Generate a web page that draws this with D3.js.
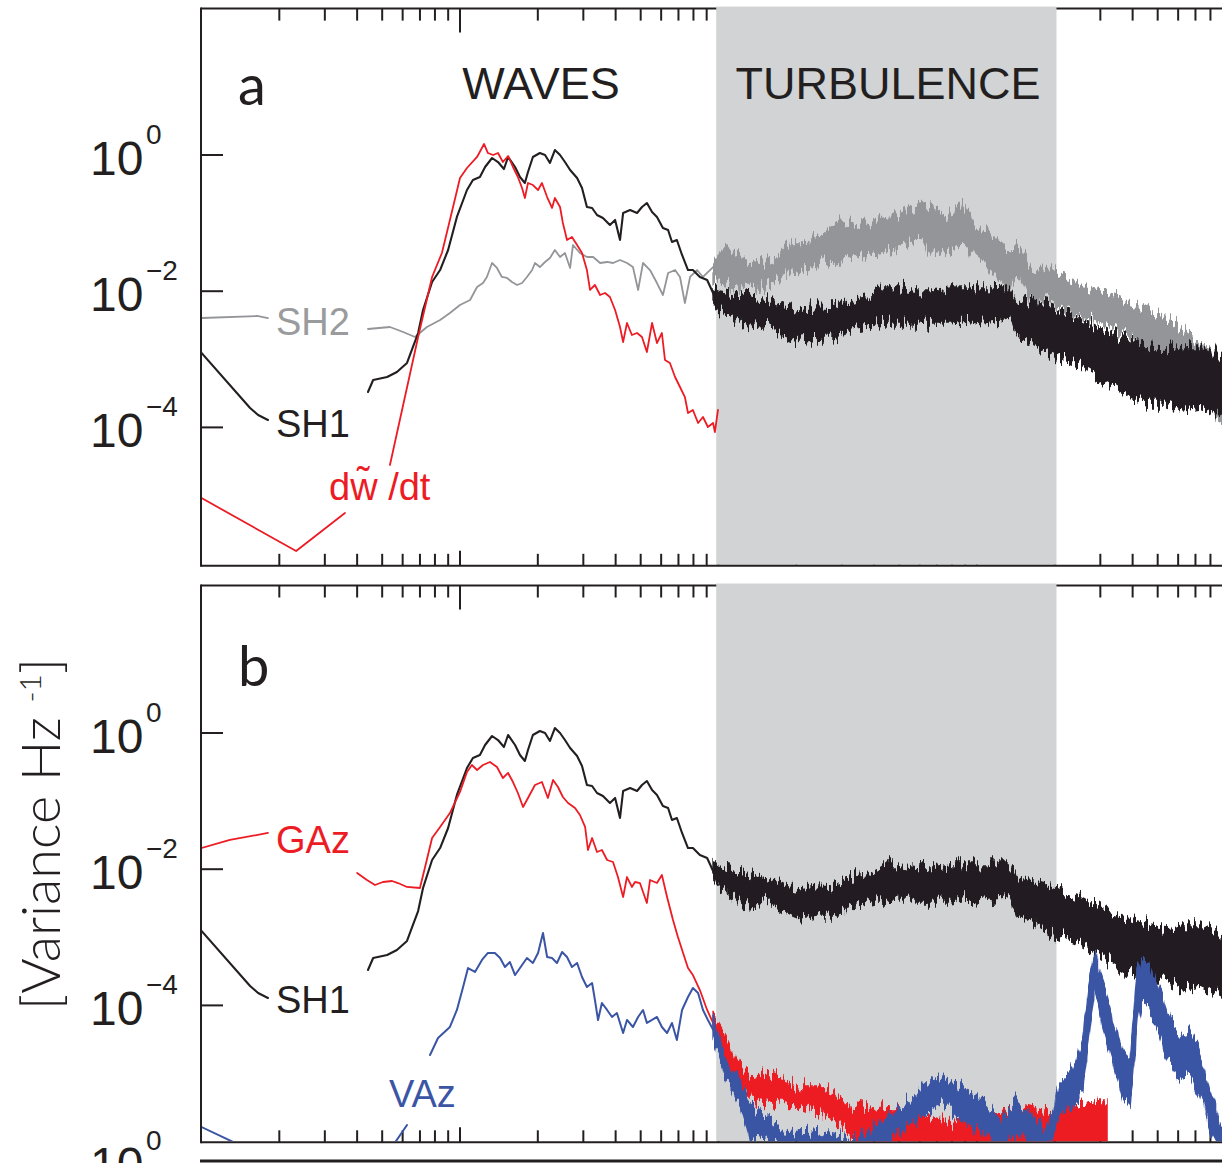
<!DOCTYPE html>
<html>
<head>
<meta charset="utf-8">
<script src="https://cdn.jsdelivr.net/npm/d3@7"></script>
<style>
  body { margin: 0; background: #ffffff; }
  svg { display: block; }
</style>
</head>
<body>
<svg id="chart" width="1222" height="1163"></svg>
<script>
// ---------------------------------------------------------------------------
// Spectra, stored as log10(frequency / Hz) and log10(variance / Hz^-1).
// Smooth low-frequency parts are lines; noisy high-frequency parts are
// stored as lower / upper envelopes of the scatter.
// ---------------------------------------------------------------------------

// SH1 shear probe (same spectrum shown in both panels)
const sh1LeftLogF = [-2.0, -1.812, -1.781, -1.743];
const sh1LeftLogP = [-2.907, -3.715, -3.818, -3.891];
const sh1LogF = [-1.356,-1.336,-1.282,-1.244,-1.205,-1.182,-1.162,-1.143,-1.108,-1.077,-1.046,-1.012,-0.973,-0.950,-0.923,-0.903,-0.876,-0.853,-0.830,-0.814,-0.787,-0.768,-0.749,-0.737,-0.718,-0.691,-0.671,-0.652,-0.633,-0.613,-0.594,-0.574,-0.547,-0.528,-0.509,-0.489,-0.470,-0.447,-0.420,-0.400,-0.381,-0.369,-0.342,-0.315,-0.296,-0.277,-0.257,-0.238,-0.215,-0.195,-0.180,-0.161,-0.141,-0.118,-0.099,-0.072,-0.044,-0.021,-0.002];
const sh1LogP = [-3.480,-3.304,-3.260,-3.186,-3.054,-2.819,-2.614,-2.276,-1.865,-1.689,-1.395,-0.910,-0.514,-0.367,-0.323,-0.176,-0.044,-0.103,-0.206,-0.029,-0.176,-0.323,-0.411,-0.250,-0.029,0.029,0,-0.117,0.073,0,-0.103,-0.220,-0.338,-0.485,-0.764,-0.778,-0.881,-0.925,-1.028,-0.954,-1.248,-0.852,-0.808,-0.852,-0.764,-0.705,-0.837,-0.910,-1.072,-1.101,-1.278,-1.248,-1.468,-1.689,-1.689,-1.791,-1.836,-2.026,-2.232];
const sh1BandLogF = [-0.021,0.006,0.056,0.122,0.188,0.250,0.315,0.381,0.443,0.509,0.574,0.636,0.702,0.768,0.830,0.896,0.961,1.023,1.089,1.128,1.155,1.217,1.282,1.348,1.410,1.476,1.542,1.603,1.669,1.735,1.797,1.863,1.948];
const sh1BandHi = [-1.938,-1.982,-2.026,-2.085,-2.129,-2.232,-2.276,-2.232,-2.247,-2.129,-2.085,-1.938,-1.938,-1.982,-1.982,-1.938,-1.938,-1.938,-1.938,-1.938,-2.129,-2.173,-2.232,-2.320,-2.423,-2.570,-2.672,-2.761,-2.819,-2.863,-2.819,-2.819,-2.966];
const sh1BandLo = [-2.115,-2.276,-2.379,-2.526,-2.467,-2.614,-2.717,-2.672,-2.672,-2.570,-2.526,-2.467,-2.467,-2.467,-2.467,-2.467,-2.423,-2.467,-2.423,-2.379,-2.672,-2.761,-2.907,-3.010,-3.113,-3.260,-3.407,-3.554,-3.642,-3.642,-3.744,-3.700,-3.847];

// SH2 shear probe (panel a)
const sh2LeftLogF = [-2.0, -1.785, -1.743];
const sh2LeftLogP = [-2.394, -2.364, -2.394];
const sh2LogF = [-1.356,-1.271,-1.220,-1.174,-1.128,-1.077,-1.039,-1.000,-0.961,-0.934,-0.911,-0.896,-0.876,-0.857,-0.838,-0.818,-0.799,-0.779,-0.760,-0.741,-0.721,-0.710,-0.691,-0.671,-0.652,-0.633,-0.613,-0.594,-0.574,-0.563,-0.536,-0.509,-0.485,-0.458,-0.431,-0.408,-0.381,-0.354,-0.331,-0.311,-0.292,-0.265,-0.238,-0.215,-0.195,-0.168,-0.149,-0.130,-0.110,-0.083,-0.060,-0.021];
const sh2LogP = [-2.555,-2.526,-2.599,-2.672,-2.526,-2.423,-2.320,-2.203,-2.129,-1.938,-1.880,-1.791,-1.586,-1.659,-1.791,-1.806,-1.865,-1.909,-1.880,-1.791,-1.689,-1.586,-1.645,-1.571,-1.512,-1.395,-1.498,-1.439,-1.659,-1.322,-1.439,-1.498,-1.498,-1.586,-1.571,-1.586,-1.542,-1.586,-1.645,-1.982,-1.586,-1.689,-1.880,-2.056,-1.733,-1.689,-1.791,-2.173,-1.791,-1.689,-1.791,-1.645];
const sh2BandLogF = [-0.021,0.033,0.095,0.161,0.226,0.277,0.342,0.404,0.470,0.536,0.598,0.663,0.729,0.779,0.830,0.896,0.942,1.000,1.050,1.116,1.166,1.217,1.282,1.348,1.410,1.476,1.542,1.603,1.669,1.735,1.797,1.863,1.948];
const sh2BandHi = [-1.615,-1.351,-1.498,-1.586,-1.498,-1.292,-1.292,-1.145,-0.999,-1.057,-0.954,-0.910,-0.808,-0.705,-0.764,-0.910,-0.705,-1.057,-1.145,-1.395,-1.351,-1.689,-1.645,-1.836,-1.938,-2.026,-2.085,-2.173,-2.320,-2.423,-2.570,-2.761,-2.966];
const sh2BandLo = [-1.836,-1.880,-1.938,-1.938,-1.836,-1.733,-1.689,-1.586,-1.542,-1.498,-1.439,-1.395,-1.292,-1.204,-1.468,-1.395,-1.292,-1.542,-1.689,-1.938,-1.791,-2.173,-2.129,-2.276,-2.379,-2.467,-2.570,-2.717,-2.863,-3.010,-3.157,-3.348,-4.038];

// d(w~)/dt, vertical acceleration (panel a)
const dwdtLeftLogF = [-2.0, -1.634, -1.445];
const dwdtLeftLogP = [-5.037, -5.815, -5.257];
const dwdtLogF = [-1.271,-1.162,-1.108,-1.070,-1.039,-1.000,-0.973,-0.934,-0.907,-0.892,-0.872,-0.853,-0.834,-0.814,-0.795,-0.776,-0.760,-0.749,-0.737,-0.718,-0.698,-0.683,-0.663,-0.644,-0.633,-0.613,-0.602,-0.586,-0.567,-0.547,-0.528,-0.509,-0.497,-0.478,-0.458,-0.439,-0.420,-0.400,-0.381,-0.369,-0.354,-0.335,-0.315,-0.296,-0.277,-0.257,-0.238,-0.219,-0.207,-0.188,-0.168,-0.149,-0.130,-0.118,-0.099,-0.079,-0.060,-0.041,-0.021,-0.014,-0.002];
const dwdtLogP = [-4.552,-2.672,-1.791,-1.439,-0.954,-0.338,-0.191,-0.029,0.162,0.029,0,0.029,-0.103,-0.015,-0.176,-0.323,-0.485,-0.631,-0.411,-0.441,-0.514,-0.411,-0.617,-0.778,-0.631,-0.764,-0.999,-1.248,-1.204,-1.322,-1.439,-1.689,-1.982,-1.909,-2.056,-2.026,-2.085,-2.276,-2.526,-2.746,-2.467,-2.643,-2.614,-2.672,-2.893,-2.467,-2.761,-2.614,-3.010,-3.054,-3.260,-3.407,-3.554,-3.789,-3.744,-3.935,-3.847,-3.994,-3.935,-4.068,-3.744];

// GAz accelerometer (panel b)
const gazLeftLogF = [-2.0, -1.890, -1.743];
const gazLeftLogP = [-1.689, -1.571, -1.468];
const gazLogF = [-1.398,-1.360,-1.329,-1.298,-1.263,-1.240,-1.205,-1.155,-1.135,-1.108,-1.077,-1.039,-1.000,-0.973,-0.954,-0.934,-0.911,-0.884,-0.857,-0.834,-0.814,-0.795,-0.776,-0.756,-0.737,-0.710,-0.683,-0.660,-0.640,-0.621,-0.602,-0.582,-0.555,-0.536,-0.516,-0.505,-0.489,-0.470,-0.451,-0.431,-0.408,-0.389,-0.369,-0.354,-0.335,-0.323,-0.304,-0.277,-0.265,-0.238,-0.219,-0.199,-0.176,-0.157,-0.137,-0.118,-0.099,-0.072,-0.044,-0.021,-0.002];
const gazLogP = [-2.056,-2.159,-2.232,-2.188,-2.173,-2.203,-2.261,-2.276,-1.968,-1.542,-1.380,-1.175,-0.866,-0.573,-0.470,-0.543,-0.470,-0.426,-0.499,-0.661,-0.587,-0.720,-0.881,-1.087,-0.954,-0.764,-0.720,-0.954,-0.690,-0.793,-0.940,-1.028,-1.101,-1.204,-1.380,-1.718,-1.542,-1.747,-1.718,-1.865,-1.894,-2.115,-2.408,-2.115,-2.261,-2.188,-2.203,-2.496,-2.159,-2.203,-2.085,-2.408,-2.746,-2.996,-3.230,-3.451,-3.554,-3.774,-4.067,-4.258,-4.464];
const gazBandLogF = [-0.021,0.033,0.083,0.133,0.188,0.250,0.315,0.381,0.443,0.509,0.574,0.636,0.702,0.768,0.830,0.896,0.961,1.023,1.089,1.155,1.217,1.282,1.348,1.410,1.476,1.503];
const gazBandHi = [-4.170,-4.508,-4.904,-5.051,-4.993,-5.095,-5.198,-5.198,-5.286,-5.492,-5.536,-5.492,-5.492,-5.580,-5.639,-5.727,-5.683,-5.536,-5.580,-5.433,-5.492,-5.580,-5.492,-5.433,-5.389,-5.389];
const gazBandLo = [-4.361,-4.802,-5.198,-5.389,-5.433,-5.433,-5.492,-5.580,-5.683,-5.874,-6.123,-6.123,-6.123,-6.123,-6.123,-6.123,-6.123,-6.123,-6.123,-6.123,-6.123,-6.123,-6.123,-6.123,-6.123,-6.123];

// VAz accelerometer (panel b)
const vazLeftLogF = [-2.0, -1.812];
const vazLeftLogP = [-5.786, -6.123];
const vazMidLogF = [-1.271, -1.205];
const vazMidLogP = [-6.123, -5.756];
const vazLogF = [-1.116,-1.085,-1.039,-1.012,-0.988,-0.969,-0.942,-0.915,-0.892,-0.865,-0.845,-0.826,-0.807,-0.787,-0.768,-0.741,-0.718,-0.698,-0.679,-0.663,-0.644,-0.625,-0.605,-0.586,-0.567,-0.547,-0.528,-0.509,-0.489,-0.478,-0.466,-0.451,-0.431,-0.412,-0.393,-0.369,-0.354,-0.331,-0.311,-0.292,-0.277,-0.257,-0.238,-0.219,-0.199,-0.180,-0.161,-0.141,-0.118,-0.099,-0.079,-0.060,-0.041,-0.014];
const vazLogP = [-4.728,-4.479,-4.317,-4.067,-3.730,-3.451,-3.509,-3.333,-3.230,-3.230,-3.304,-3.436,-3.363,-3.554,-3.451,-3.304,-3.377,-3.230,-2.937,-3.289,-3.304,-3.377,-3.216,-3.289,-3.436,-3.377,-3.583,-3.730,-3.671,-3.921,-4.214,-3.965,-4.067,-4.170,-4.112,-4.405,-4.214,-4.317,-4.170,-4.067,-4.258,-4.214,-4.170,-4.317,-4.405,-4.258,-4.508,-4.067,-3.877,-3.744,-3.818,-4.067,-4.214,-4.405];
const vazBandLogF = [-0.021,0.033,0.083,0.122,0.188,0.250,0.315,0.381,0.443,0.509,0.574,0.636,0.702,0.768,0.830,0.868,0.934,1.000,1.050,1.089,1.155,1.217,1.271,1.321,1.371,1.410,1.437,1.456,1.487,1.526,1.565,1.592,1.619,1.638,1.662,1.696,1.735,1.785,1.824,1.863,1.901,1.948];
const vazBandHi = [-4.214,-4.802,-5.095,-5.492,-5.639,-5.830,-5.874,-5.859,-5.903,-5.976,-5.874,-5.683,-5.492,-5.286,-5.095,-5.051,-5.198,-5.286,-5.492,-5.683,-5.389,-5.639,-5.830,-5.139,-4.949,-4.508,-3.627,-3.230,-3.627,-4.214,-4.699,-4.802,-3.524,-3.333,-3.377,-3.671,-4.112,-4.508,-4.317,-4.699,-5.286,-5.874];
const vazBandLo = [-4.508,-5.095,-5.433,-5.932,-5.976,-6.123,-6.123,-6.123,-6.123,-6.123,-6.123,-6.123,-5.874,-5.683,-5.492,-5.433,-5.683,-5.786,-5.976,-6.123,-5.874,-6.123,-6.123,-5.580,-5.492,-5.198,-4.317,-3.730,-4.317,-4.802,-5.389,-5.492,-4.317,-3.921,-4.023,-4.317,-4.802,-5.095,-4.993,-5.286,-5.786,-6.123];

// Frequency band regarded as turbulence (Hz)
const turbulenceBand = [0.98, 20.3];

// Axis ticks and labels
const yTickExponents = [0, -2, -4];
const yTickSup = ["0", "\u22122", "\u22124"];
const panelLetters = ["a", "b"];
const regionLabels = ["WAVES", "TURBULENCE"];

// ---------------------------------------------------------------------------
const W = 1222, H = 1163;
const INK = "#231f20", RED = "#ed1c24", BLUE = "#3b55a5", GREY = "#939598", SHADE = "#d1d3d4";
const svg = d3.select("#chart");

// rough, spiky edges for the dense high-frequency scatter
const defs = svg.append("defs");
const rough = defs.append("filter").attr("id", "scatter")
  .attr("filterUnits", "userSpaceOnUse").attr("x", 0).attr("y", 0).attr("width", W).attr("height", H);
rough.append("feTurbulence").attr("type", "fractalNoise").attr("baseFrequency", "0.33 0.025")
  .attr("numOctaves", 3).attr("seed", 7).attr("result", "noise");
rough.append("feColorMatrix").attr("in", "noise").attr("type", "matrix")
  .attr("values", "0 0 0 0 0.5  0 1.7 0 0 -0.35  0 0 0 0 0  0 0 0 0 1").attr("result", "shift");
rough.append("feDisplacementMap").attr("in", "SourceGraphic").attr("in2", "shift")
  .attr("scale", 18).attr("xChannelSelector", "R").attr("yChannelSelector", "G");

const DECADE_X = 258.5;
const x = d3.scaleLog().domain([0.01, 100]).range([201.5, 201.5 + 4 * DECADE_X]);
const DECADE_Y = 68.1;
const panels = [
  { key: "a", zeroY: 155, top: 8.6, bottom: 565.8 },
  { key: "b", zeroY: 733, top: 585.5, bottom: 1142.3 }
];
panels.forEach(p => {
  p.y = d3.scaleLog().domain([1e-6, 1e2]).range([p.zeroY + 6 * DECADE_Y, p.zeroY - 2 * DECADE_Y]);
});

const pts = (lf, lp) => lf.map((f, i) => ({ f: Math.pow(10, f), p: Math.pow(10, lp[i]) }));
const band = (lf, hi, lo) => lf.map((f, i) => ({ f: Math.pow(10, f), hi: Math.pow(10, hi[i]), lo: Math.pow(10, lo[i]) }));

const AX = 201;
const SANS = "Liberation Sans, Arial, sans-serif";

function drawFrame(p) {
  const g = svg.append("g");
  g.append("line").attr("x1", AX).attr("x2", AX).attr("y1", p.top - 1).attr("y2", p.bottom + 1)
    .attr("stroke", INK).attr("stroke-width", 2);
  g.append("line").attr("x1", AX).attr("x2", W).attr("y1", p.top).attr("y2", p.top)
    .attr("stroke", INK).attr("stroke-width", 2);
  // frequency ticks, top (hanging) and bottom (standing)
  const ticks = x.ticks().filter(t => t > 0.0101 && x(t) < W + 2);
  ticks.forEach(t => {
    const major = Math.abs(Math.log10(t) - Math.round(Math.log10(t))) < 1e-6;
    g.append("line").attr("x1", x(t)).attr("x2", x(t))
      .attr("y1", p.top).attr("y2", p.top + (major ? 24 : 12))
      .attr("stroke", INK).attr("stroke-width", 2);
    g.append("line").attr("x1", x(t)).attr("x2", x(t))
      .attr("y1", p.bottom).attr("y2", p.bottom - (major ? 15 : 12))
      .attr("stroke", INK).attr("stroke-width", 2);
  });
  // variance ticks and labels
  yTickExponents.forEach((e, i) => {
    const yy = p.y(Math.pow(10, e));
    g.append("line").attr("x1", AX).attr("x2", AX + 22).attr("y1", yy).attr("y2", yy)
      .attr("stroke", INK).attr("stroke-width", 2);
    g.append("text").attr("x", 90).attr("y", yy + 20)
      .attr("font-family", SANS).attr("font-size", 48).attr("fill", INK).text("10");
    g.append("text").attr("x", 146).attr("y", yy - 11)
      .attr("font-family", SANS).attr("font-size", 28).attr("fill", INK).text(yTickSup[i]);
  });
  // turbulence shading sits over the ticks and the top edge
  g.append("rect")
    .attr("x", x(turbulenceBand[0])).attr("width", x(turbulenceBand[1]) - x(turbulenceBand[0]))
    .attr("y", p.top - 2).attr("height", p.bottom - p.top + 1)
    .attr("fill", SHADE);
  g.append("line").attr("x1", AX).attr("x2", W).attr("y1", p.bottom).attr("y2", p.bottom)
    .attr("stroke", INK).attr("stroke-width", 2);

  defs.append("clipPath").attr("id", "clip-" + p.key)
    .append("rect").attr("x", AX + 1).attr("y", p.top).attr("width", W - AX).attr("height", p.bottom - p.top - 1);
  p.layer = svg.append("g").attr("clip-path", `url(#clip-${p.key})`);
}

function drawLine(p, data, color, width) {
  const line = d3.line().x(d => x(d.f)).y(d => p.y(d.p));
  p.layer.append("path")
    .attr("d", line(data)).attr("fill", "none").attr("stroke", color)
    .attr("stroke-width", width).attr("stroke-linejoin", "round").attr("stroke-linecap", "round");
}

function drawBand(p, data, color) {
  const area = d3.area().x(d => x(d.f)).y0(d => p.y(d.lo)).y1(d => p.y(d.hi));
  p.layer.append("path").attr("filter", "url(#scatter)")
    .attr("d", area(data)).attr("fill", color).attr("stroke", color)
    .attr("stroke-width", 1.5);
}

function label(xp, yp, txt, color, size, family) {
  svg.append("text").attr("x", xp).attr("y", yp)
    .attr("font-family", family || SANS)
    .attr("font-size", size).attr("fill", color).text(txt);
}

const [pa, pb] = panels;
drawFrame(pa);
drawFrame(pb);

// ---- panel a
drawLine(pa, pts(sh2LeftLogF, sh2LeftLogP), GREY, 1.8);
drawLine(pa, pts(sh2LogF, sh2LogP), GREY, 1.8);
drawBand(pa, band(sh2BandLogF, sh2BandHi, sh2BandLo), GREY);
drawLine(pa, pts(sh1LeftLogF, sh1LeftLogP), INK, 2.1);
drawLine(pa, pts(sh1LogF, sh1LogP), INK, 2.1);
drawBand(pa, band(sh1BandLogF, sh1BandHi, sh1BandLo), INK);
drawLine(pa, pts(dwdtLeftLogF, dwdtLeftLogP), RED, 1.8);
drawLine(pa, pts(dwdtLogF, dwdtLogP), RED, 1.8);

// ---- panel b
drawLine(pb, pts(sh1LeftLogF, sh1LeftLogP), INK, 2.1);
drawLine(pb, pts(sh1LogF, sh1LogP), INK, 2.1);
drawBand(pb, band(sh1BandLogF, sh1BandHi, sh1BandLo), INK);
drawLine(pb, pts(gazLeftLogF, gazLeftLogP), RED, 1.8);
drawLine(pb, pts(gazLogF, gazLogP), RED, 1.8);
drawBand(pb, band(gazBandLogF, gazBandHi, gazBandLo), RED);
drawLine(pb, pts(vazLeftLogF, vazLeftLogP), BLUE, 2);
drawLine(pb, pts(vazMidLogF, vazMidLogP), BLUE, 2);
drawLine(pb, pts(vazLogF, vazLogP), BLUE, 2);
drawBand(pb, band(vazBandLogF, vazBandHi, vazBandLo), BLUE);

// ---- text
label(238, 105, panelLetters[0], INK, 56, "Lato, sans-serif");
label(238, 686, panelLetters[1], INK, 56, "Lato, sans-serif");
svg.append("text").attr("x", 541).attr("y", 99).attr("text-anchor", "middle")
  .attr("font-family", SANS).attr("font-size", 45).attr("fill", INK).text(regionLabels[0]);
svg.append("text").attr("x", 888).attr("y", 99).attr("text-anchor", "middle")
  .attr("font-family", SANS).attr("font-size", 45).attr("fill", INK).text(regionLabels[1]);

label(276, 335, "SH2", "#9a9b9d", 38);
label(276, 437, "SH1", INK, 38);
label(329, 500, "dw\u0303 /dt", RED, 38);
label(276, 853, "GAz", RED, 38);
label(276, 1013, "SH1", INK, 38);
label(389, 1107, "VAz", BLUE, 38);

// vertical axis title
const yt = svg.append("text")
  .attr("transform", "translate(60,834) rotate(-90)")
  .attr("text-anchor", "middle")
  .attr("font-family", "Lato, sans-serif").attr("font-size", 54).attr("font-weight", 300).attr("fill", INK);
yt.append("tspan").text("[Variance  Hz ");
yt.append("tspan").attr("font-size", 30).attr("dy", -19).text("-1");
yt.append("tspan").attr("dy", 19).text("]");

// top edge of the next panel
svg.append("line").attr("x1", AX - 1).attr("x2", W).attr("y1", 1161).attr("y2", 1161)
  .attr("stroke", INK).attr("stroke-width", 3);
label(90, 1181, "10", INK, 48);
label(146, 1150, "0", INK, 28);
</script>
</body>
</html>
